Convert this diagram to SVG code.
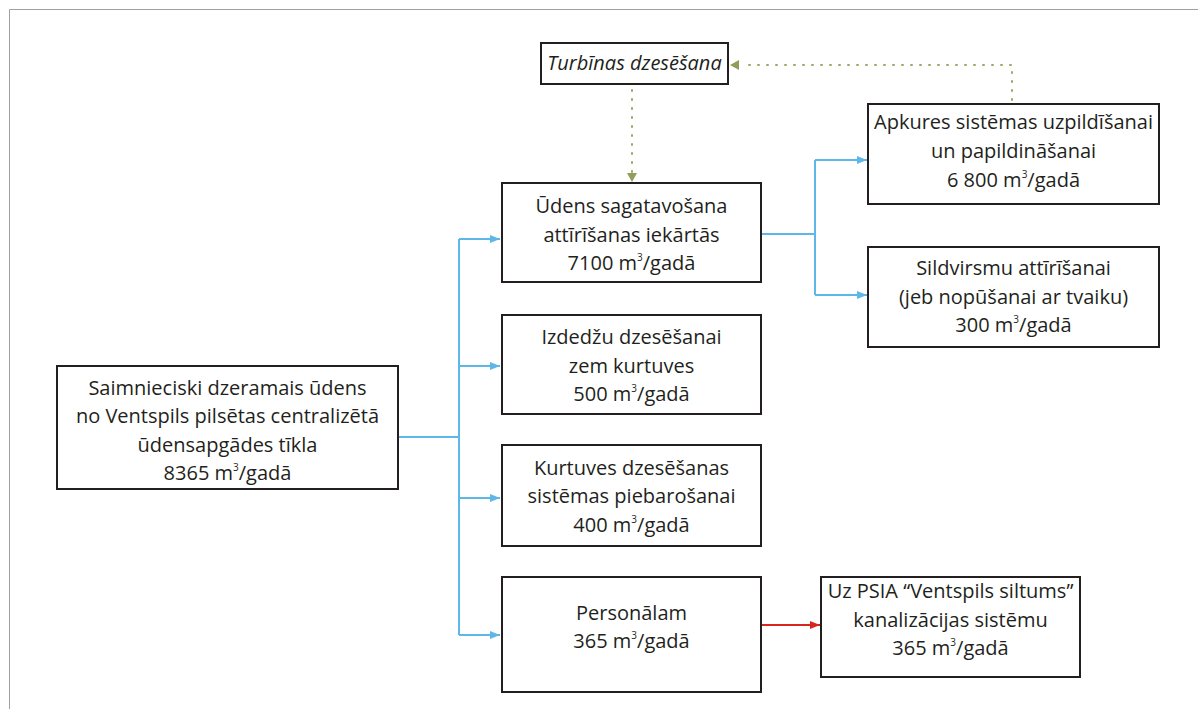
<svg xmlns="http://www.w3.org/2000/svg" width="1198" height="709" viewBox="0 0 1198 709">
<style>
.box{fill:#fff;stroke:#231f20;stroke-width:2}
.t{font-family:"Open Sans","Liberation Sans",sans-serif;font-size:20px;fill:#231f20;text-anchor:middle}
.sup{font-size:10px}
.blue{fill:none;stroke:#5db7e8;stroke-width:2}
.red{fill:none;stroke:#d7261e;stroke-width:2}
.green{fill:none;stroke:#9aa86a;stroke-width:2;stroke-dasharray:1 8;stroke-linecap:round}
</style>
<defs>
<marker id="ab" markerWidth="10" markerHeight="8" refX="10" refY="4" orient="auto" markerUnits="userSpaceOnUse"><path d="M0,0L10,4L0,8z" fill="#5db7e8"/></marker>
<marker id="ar" markerWidth="10" markerHeight="8" refX="10" refY="4" orient="auto" markerUnits="userSpaceOnUse"><path d="M0,0L10,4L0,8z" fill="#d7261e"/></marker>
</defs>
<path d="M9.5,709V9.5H1198" fill="none" stroke="#a0a0a0" stroke-width="1"/>
<g id="connectors">
<path class="blue" d="M398,437H459"/>
<path class="blue" d="M459,239V635"/>
<path class="blue" d="M459,239H500" marker-end="url(#ab)"/>
<path class="blue" d="M459,366H500" marker-end="url(#ab)"/>
<path class="blue" d="M459,498H500" marker-end="url(#ab)"/>
<path class="blue" d="M459,635H500" marker-end="url(#ab)"/>
<path class="blue" d="M762,234H815"/>
<path class="blue" d="M815,160V295"/>
<path class="blue" d="M815,160H867" marker-end="url(#ab)"/>
<path class="blue" d="M815,295H867" marker-end="url(#ab)"/>
<path class="red" d="M762,625H820" marker-end="url(#ar)"/>
<path class="green" d="M632,90V172"/>
<path d="M627,173L637,173L632,182z" fill="#8f9e5a"/>
<path class="green" d="M1012,100V65H742"/>
<path d="M739,60L739,70L730,65z" fill="#8f9e5a"/>
</g>
<g id="n-main"><rect class="box" x="57" y="366" width="341" height="123"/>
<text class="t" x="227.5" y="395">Saimnieciski dzeramais ūdens</text>
<text class="t" x="227.5" y="423">no Ventspils pilsētas centralizētā</text>
<text class="t" x="227.5" y="452">ūdensapgādes tīkla</text>
<text class="t" x="227.5" y="480">8365 m<tspan class="sup" dy="-9">3</tspan><tspan dy="9">/gadā</tspan></text></g>
<g id="n-turb"><rect class="box" x="541" y="43" width="187" height="41"/>
<text class="t" x="634.5" y="70" font-style="italic">Turbīnas dzesēšana</text></g>
<g id="n-udens"><rect class="box" x="502" y="183" width="259" height="99"/>
<text class="t" x="631.5" y="213">Ūdens sagatavošana</text>
<text class="t" x="631.5" y="242">attīrīšanas iekārtās</text>
<text class="t" x="631.5" y="270">7100 m<tspan class="sup" dy="-9">3</tspan><tspan dy="9">/gadā</tspan></text></g>
<g id="n-izd"><rect class="box" x="502" y="315" width="259" height="99"/>
<text class="t" x="631.5" y="344">Izdedžu dzesēšanai</text>
<text class="t" x="631.5" y="373">zem kurtuves</text>
<text class="t" x="631.5" y="401">500 m<tspan class="sup" dy="-9">3</tspan><tspan dy="9">/gadā</tspan></text></g>
<g id="n-kurt"><rect class="box" x="502" y="445" width="259" height="101"/>
<text class="t" x="631.5" y="475">Kurtuves dzesēšanas</text>
<text class="t" x="631.5" y="503">sistēmas piebarošanai</text>
<text class="t" x="631.5" y="532">400 m<tspan class="sup" dy="-9">3</tspan><tspan dy="9">/gadā</tspan></text></g>
<g id="n-pers"><rect class="box" x="502" y="577" width="259" height="115"/>
<text class="t" x="631.5" y="620">Personālam</text>
<text class="t" x="631.5" y="648">365 m<tspan class="sup" dy="-9">3</tspan><tspan dy="9">/gadā</tspan></text></g>
<g id="n-apk"><rect class="box" x="868" y="104" width="291" height="100"/>
<text class="t" x="1013.5" y="129">Apkures sistēmas uzpildīšanai</text>
<text class="t" x="1013.5" y="158">un papildināšanai</text>
<text class="t" x="1013.5" y="187">6 800 m<tspan class="sup" dy="-9">3</tspan><tspan dy="9">/gadā</tspan></text></g>
<g id="n-sild"><rect class="box" x="868" y="247" width="291" height="100"/>
<text class="t" x="1013.5" y="275">Sildvirsmu attīrīšanai</text>
<text class="t" x="1013.5" y="304">(jeb nopūšanai ar tvaiku)</text>
<text class="t" x="1013.5" y="332">300 m<tspan class="sup" dy="-9">3</tspan><tspan dy="9">/gadā</tspan></text></g>
<g id="n-uz"><rect class="box" x="821" y="577" width="259" height="100"/>
<text class="t" x="950.5" y="598">Uz PSIA “Ventspils siltums”</text>
<text class="t" x="950.5" y="627">kanalizācijas sistēmu</text>
<text class="t" x="950.5" y="655">365 m<tspan class="sup" dy="-9">3</tspan><tspan dy="9">/gadā</tspan></text></g>
</svg>
